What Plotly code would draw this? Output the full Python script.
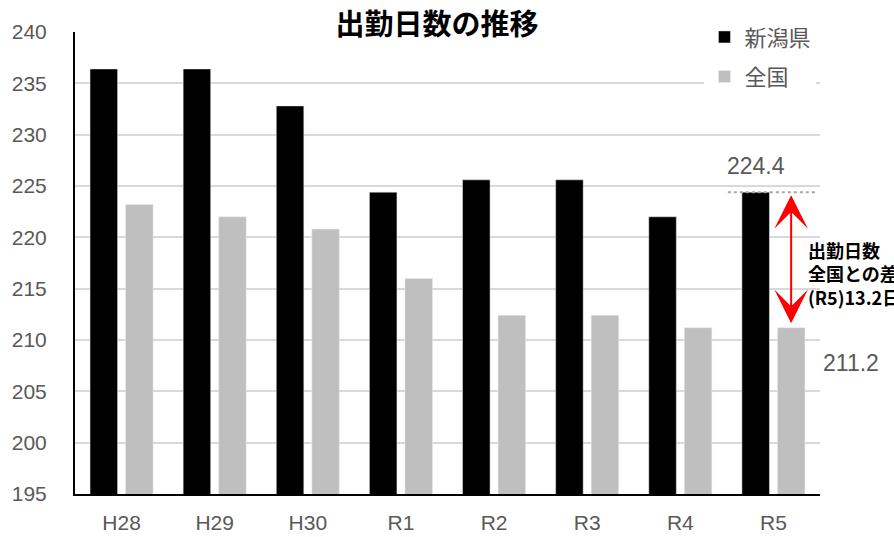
import plotly.graph_objects as go

categories = ["H28", "H29", "H30", "R1", "R2", "R3", "R4", "R5"]
niigata = [236.4, 236.4, 232.8, 224.4, 225.6, 225.6, 222.0, 224.4]
national = [223.2, 222.0, 220.8, 216.0, 212.4, 212.4, 211.2, 211.2]
series_names = ["新潟県", "全国"]
title_text = "出勤日数の推移"
y_ticks = list(range(195, 241, 5))

FONT = "Liberation Sans, Arial, Noto Sans CJK JP, sans-serif"
JFONT = "Noto Sans CJK JP, sans-serif"
GRAY_TXT = "#595959"

xs = list(range(len(categories)))

fig = go.Figure()
fig.add_trace(go.Bar(x=xs, y=niigata, name=series_names[0], marker_color="#000000",
                     legendgroup="a"))
fig.add_trace(go.Bar(x=xs, y=national, name=series_names[1], marker_color="#bfbfbf",
                     legendgroup="b"))

last_n = niigata[-1]
last_j = national[-1]
ix = xs[-1]

# dotted reference line at Niigata R5 value
fig.add_shape(type="line", xref="x", yref="y", x0=ix - 0.49, x1=ix + 0.46,
              y0=last_n, y1=last_n, line=dict(color="#a6a6a6", width=2, dash="dot"))

# double arrow between values
fig.add_annotation(x=ix + 0.19, y=last_n, ax=ix + 0.19, ay=last_j, xref="x", yref="y",
                   axref="x", ayref="y", text="", showarrow=True,
                   arrowhead=3, startarrowhead=3, arrowside="end+start",
                   arrowsize=2.8, startarrowsize=2.8, arrowwidth=2, arrowcolor="#ff0000",
                   standoff=3, startstandoff=3)

fig.add_annotation(x=ix - 0.19, y=last_n + 2.5, xref="x", yref="y", text=f"{last_n:.1f}",
                   showarrow=False, font=dict(family=FONT, size=23, color=GRAY_TXT))
fig.add_annotation(x=(851 - 75) / 745, y=last_j - 3.4, xref="paper", yref="y",
                   xanchor="center", yanchor="middle", text=f"{last_j:.1f}",
                   showarrow=False, font=dict(family=FONT, size=23, color=GRAY_TXT))

diff = last_n - last_j
fig.add_annotation(x=ix + 0.35, y=(last_n + last_j) / 2 - 1.3, xref="x", yref="y",
                   xanchor="left", yanchor="middle", align="left", showarrow=False,
                   text=f"<b>出勤日数<br>全国との差<br>(R5){diff:.1f}日</b>",
                   font=dict(family=JFONT, size=18, color="#000000"))

fig.update_layout(
    width=894, height=537,
    margin=dict(l=75, r=74, t=32, b=43, autoexpand=False),
    paper_bgcolor="white", plot_bgcolor="white",
    barmode="group", bargap=0.237, bargroupgap=0.225,
    title=dict(text=f"<b>{title_text}</b>", x=437 / 894, xanchor="center",
               y=1 - 25 / 537, yanchor="middle",
               font=dict(family=JFONT, size=29, color="#000000")),
    legend=dict(xref="container", yref="container", x=0.788, y=0.97,
                xanchor="left", yanchor="top",
                bgcolor="white", font=dict(family=JFONT, size=22, color=GRAY_TXT),
                traceorder="grouped", tracegroupgap=8),
    xaxis=dict(range=[-0.5, len(categories) - 0.5], tickvals=xs, ticktext=categories,
               showgrid=False, showline=True, linecolor="#000000", linewidth=2,
               ticks="", tickfont=dict(family=FONT, size=21, color=GRAY_TXT),
               ticklabelstandoff=9, zeroline=False),
    yaxis=dict(range=[195, 240], tickvals=y_ticks, showgrid=True, gridcolor="#d9d9d9",
               gridwidth=2, showline=True, linecolor="#000000", linewidth=2,
               ticks="", tickfont=dict(family=FONT, size=21, color=GRAY_TXT),
               ticklabelstandoff=22, zeroline=False),
)

fig.write_html("out.html", config={"displayModeBar": False},
               post_script="document.body.style.margin='0';document.body.style.overflow='hidden';")
